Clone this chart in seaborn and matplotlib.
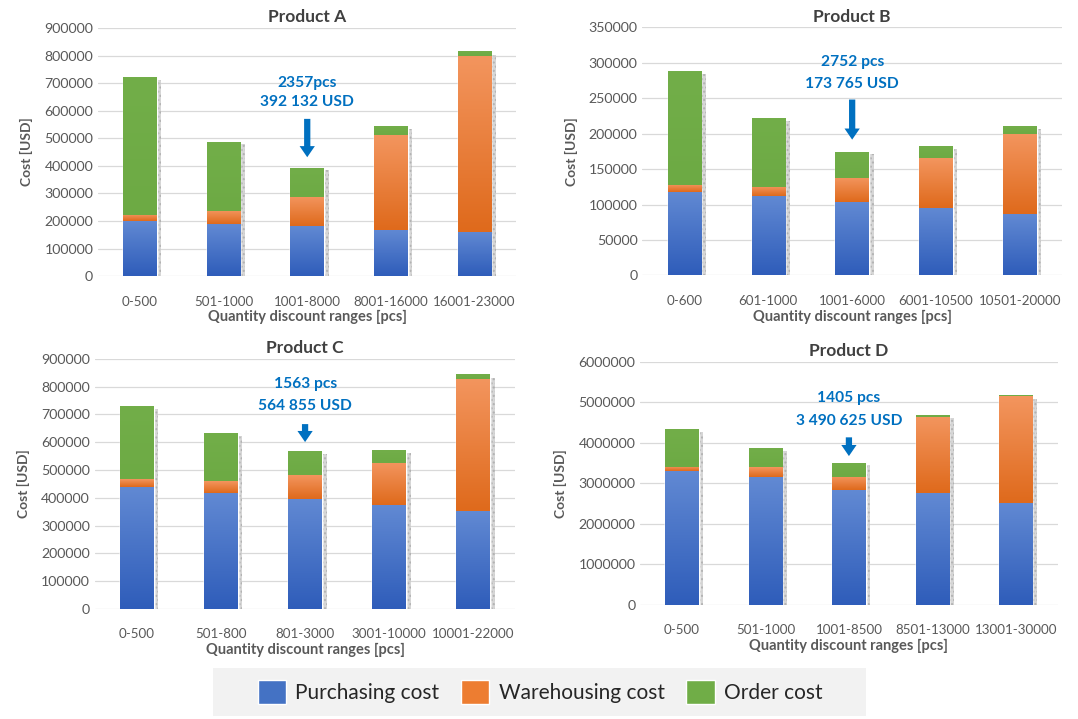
import numpy as np
import pandas as pd
import seaborn as sns
import matplotlib.pyplot as plt
from matplotlib.patches import Patch, Rectangle
from matplotlib.colors import LinearSegmentedColormap

# ---- data ----
cats_a = ['0-500', '501-1000', '1001-8000', '8001-16000', '16001-23000']
purch_a = [200000, 188000, 180000, 168000, 160000]
wareh_a = [22000, 49000, 107000, 344000, 640000]
order_a = [500000, 248000, 105000, 31000, 15000]

cats_b = ['0-600', '601-1000', '1001-6000', '6001-10500', '10501-20000']
purch_b = [118000, 112000, 103000, 95000, 86000]
wareh_b = [10000, 13000, 35000, 70000, 114000]
order_b = [160000, 96000, 35765, 16000, 10000]

cats_c = ['0-500', '501-800', '801-3000', '3001-10000', '10001-22000']
purch_c = [440000, 418000, 397000, 373000, 352000]
wareh_c = [28000, 42000, 85000, 152000, 476000]
order_c = [262000, 172000, 82855, 45000, 15000]

cats_d = ['0-500', '501-1000', '1001-8500', '8501-13000', '13001-30000']
purch_d = [3310000, 3160000, 2830000, 2750000, 2520000]
wareh_d = [100000, 230000, 330000, 1890000, 2620000]
order_d = [920000, 450000, 330625, 40000, 20000]

titles = ['Product A', 'Product B', 'Product C', 'Product D']
optimum = ['2357pcs\n392 132 USD', '2752 pcs\n173 765 USD',
           '1563 pcs\n564 855 USD', '1405 pcs\n3 490 625 USD']
y_max = [900000, 350000, 900000, 6000000]
y_step = [100000, 50000, 100000, 1000000]

BLUE, ORANGE, GREEN = '#4472C4', '#ED7D31', '#70AD47'
grad = {'blue': ('#6189D3', '#2F5DBA'),
        'orange': ('#F3955E', '#DF6A1C'),
        'green': ('#72AE49', '#6DAA44')}
TXT = '#595959'
ANN = '#0070C0'

sns.set_style('white')
plt.rcParams['font.family'] = ['Lato', 'DejaVu Sans']

fig = plt.figure(figsize=(10.78, 7.19), dpi=100)
# axes rectangles in figure fraction (left, bottom, width, height)
rects = [(0.091, 0.616, 0.388, 0.345),
         (0.596, 0.617, 0.389, 0.345),
         (0.088, 0.153, 0.390, 0.348),
         (0.594, 0.159, 0.387, 0.338)]
# annotation positions in axes fraction: line1, line2, arrow start, arrow tip
ann_pos = [(0.78, 0.70, 0.645, 0.468),
           (0.86, 0.77, 0.72, 0.536),
           (0.90, 0.81, 0.75, 0.656),
           (0.85, 0.757, 0.70, 0.60)]

products = [(cats_a, purch_a, wareh_a, order_a),
            (cats_b, purch_b, wareh_b, order_b),
            (cats_c, purch_c, wareh_c, order_c),
            (cats_d, purch_d, wareh_d, order_d)]


def gradient_box(ax, x0, x1, y0, y1, key):
    top, bot = grad[key]
    cmap = LinearSegmentedColormap.from_list(key, [bot, top])
    ax.imshow(np.linspace(0, 1, 64).reshape(-1, 1), cmap=cmap, origin='lower',
              extent=[x0, x1, y0, y1], aspect='auto', zorder=3,
              interpolation='bilinear')


for i, (cats, pu, wa, od) in enumerate(products):
    ax = fig.add_axes(rects[i])
    df = pd.DataFrame({'range': cats, 'purch': pu, 'wareh': wa, 'order': od})
    df['pw'] = df['purch'] + df['wareh']
    df['total'] = df['pw'] + df['order']

    # shadow on the right side
    xs = np.arange(len(cats))
    ax.bar(xs + 0.055, df['total'] * 0.985, width=0.40, color='#c9c9c9',
           alpha=0.75, zorder=1.5, linewidth=0, hatch='....', edgecolor='#a8a8a8')

    sns.barplot(data=df, x='range', y='total', color=GREEN, width=0.40,
                saturation=1, ax=ax, zorder=2)
    sns.barplot(data=df, x='range', y='pw', color=ORANGE, width=0.40,
                saturation=1, ax=ax, zorder=2)
    sns.barplot(data=df, x='range', y='purch', color=BLUE, width=0.40,
                saturation=1, ax=ax, zorder=2)

    # gradient fills per segment
    bars = ax.patches[len(cats):len(cats) * 2]
    for j, b in enumerate(bars):
        x0, x1 = b.get_x(), b.get_x() + b.get_width()
        gradient_box(ax, x0, x1, 0, df['purch'][j], 'blue')
        gradient_box(ax, x0, x1, df['purch'][j], df['pw'][j], 'orange')
        gradient_box(ax, x0, x1, df['pw'][j], df['total'][j], 'green')

    ax.set_xlim(-0.5, len(cats) - 0.5)
    ax.set_ylim(0, y_max[i])
    ax.set_yticks(np.arange(0, y_max[i] + 1, y_step[i]))
    ax.ticklabel_format(axis='y', style='plain', useOffset=False)
    ax.yaxis.grid(True, color='#d9d9d9', linewidth=0.9, zorder=0)
    ax.set_axisbelow(True)
    for s in ax.spines.values():
        s.set_visible(False)
    ax.tick_params(axis='y', length=0, labelsize=10.2, labelcolor=TXT)
    ax.tick_params(axis='x', length=0, labelsize=9.6, labelcolor=TXT, pad=14)
    ax.set_xlabel('Quantity discount ranges [pcs]', fontsize=10.5,
                  fontweight='bold', color=TXT, labelpad=2)
    ax.set_ylabel('Cost [USD]', fontsize=10, fontweight='bold', color=TXT,
                  labelpad=8)
    ax.set_title(titles[i], fontsize=12.5, fontweight='bold', color='#404040',
                 pad=4)

    l1, l2, a0, a1 = ann_pos[i]
    line1, line2 = optimum[i].split('\n')
    ax.text(2, l1, line1, transform=ax.get_xaxis_transform(), ha='center',
            va='center', color=ANN, fontsize=11.2, fontweight='bold')
    ax.text(2, l2, line2, transform=ax.get_xaxis_transform(), ha='center',
            va='center', color=ANN, fontsize=11.2, fontweight='bold')
    ax.annotate('', xy=(2, a1), xytext=(2, a0), xycoords=ax.get_xaxis_transform(),
                textcoords=ax.get_xaxis_transform(),
                arrowprops=dict(arrowstyle='simple,head_width=1.1,head_length=0.8,tail_width=0.45',
                                color=ANN, lw=0))

# grey legend panel
fig.patches.append(Rectangle((213 / 1078, 3 / 719), 653 / 1078, 48 / 719,
                             transform=fig.transFigure, facecolor='#f2f2f2',
                             edgecolor='none', zorder=0))
handles = [Patch(facecolor=BLUE, label='Purchasing cost'),
           Patch(facecolor=ORANGE, label='Warehousing cost'),
           Patch(facecolor=GREEN, label='Order cost')]
leg = fig.legend(handles=handles, loc='center', bbox_to_anchor=(0.501, 0.038),
                 ncol=3, frameon=False, fontsize=15,
                 handlelength=1.35, handleheight=1.4, handletextpad=0.45,
                 columnspacing=1.05, borderaxespad=0)
for t in leg.get_texts():
    t.set_color('#262626')

fig.savefig('out.png', dpi=100)
